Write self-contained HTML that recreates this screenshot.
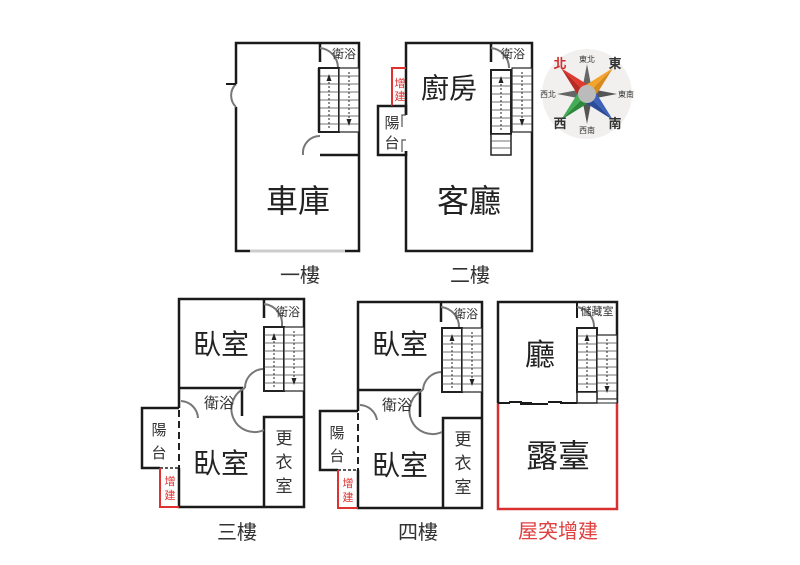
<!DOCTYPE html>
<html><head><meta charset="utf-8"><style>
html,body{margin:0;padding:0;background:#fff;}
svg{display:block;}
text{font-family:"Liberation Sans","Noto Sans CJK TC",sans-serif;}
</style></head><body>
<svg width="800" height="565" viewBox="0 0 800 565" xmlns="http://www.w3.org/2000/svg">
<defs>
<g id="stairL">
  <rect x="0" y="0" width="20" height="64" fill="#fff" stroke="#222" stroke-width="2"/>
  <g stroke="#444" stroke-width="0.8">
  <line x1="0" y1="8" x2="20" y2="8"/><line x1="0" y1="16" x2="20" y2="16"/><line x1="0" y1="24" x2="20" y2="24"/><line x1="0" y1="32" x2="20" y2="32"/><line x1="0" y1="40" x2="20" y2="40"/><line x1="0" y1="48" x2="20" y2="48"/><line x1="0" y1="56" x2="20" y2="56"/>
  </g>
  <line x1="10" y1="60" x2="10" y2="12" stroke="#222" stroke-width="1" stroke-dasharray="2,2"/>
  <polygon points="10,6 7.5,13 12.5,13" fill="#222"/>
</g>
<g id="stairR">
  <rect x="0" y="0" width="20" height="64" fill="#fff" stroke="#222" stroke-width="1.2"/>
  <g stroke="#444" stroke-width="0.8">
  <line x1="0" y1="8" x2="20" y2="8"/><line x1="0" y1="16" x2="20" y2="16"/><line x1="0" y1="24" x2="20" y2="24"/><line x1="0" y1="32" x2="20" y2="32"/><line x1="0" y1="40" x2="20" y2="40"/><line x1="0" y1="48" x2="20" y2="48"/><line x1="0" y1="56" x2="20" y2="56"/>
  </g>
  <line x1="10" y1="4" x2="10" y2="52" stroke="#222" stroke-width="1" stroke-dasharray="2,2"/>
  <polygon points="10,58 7.5,51 12.5,51" fill="#222"/>
</g>
</defs>
<g fill="none" stroke="#1a1a1a" stroke-width="2.5">
<rect x="236" y="43" width="123" height="208"/>
<line x1="320" y1="43" x2="320" y2="62"/>
<line x1="320" y1="155" x2="359" y2="155"/>
</g>
<rect x="233" y="84" width="6" height="23" fill="#fff"/>
<path d="M236 84 A16 16 0 0 0 236 107" fill="none" stroke="#777" stroke-width="2"/>
<line x1="226" y1="84" x2="236" y2="84" stroke="#1a1a1a" stroke-width="2"/>
<path d="M320 48 A20 20 0 0 1 338 68" fill="none" stroke="#777" stroke-width="2"/>
<path d="M303 155 A17 17 0 0 1 320 136" fill="none" stroke="#777" stroke-width="2"/>
<use href="#stairL" x="319" y="68"/>
<use href="#stairR" x="339" y="68"/>
<line x1="319" y1="68" x2="319" y2="132" stroke="#1a1a1a" stroke-width="2.5"/>
<line x1="250" y1="251" x2="345" y2="251" stroke="#ccc" stroke-width="3"/>
<text x="298" y="212" font-size="32" text-anchor="middle" fill="#222">車庫</text>
<text x="344" y="58" font-size="12" text-anchor="middle" fill="#333">衛浴</text>
<text x="300" y="282" font-size="20" text-anchor="middle" fill="#333">一樓</text>

<g fill="none" stroke="#1a1a1a" stroke-width="2.5">
<rect x="406" y="43" width="126" height="208"/>
<line x1="491" y1="43" x2="491" y2="62"/>
<rect x="378" y="106" width="28" height="49"/>
</g>
<rect x="404" y="115" width="5" height="36" fill="#fff"/>
<path d="M406 115 h-4 v12 M406 140 h-4 v12" fill="none" stroke="#555" stroke-width="1.2"/>
<path d="M392 106 V68 H406" fill="none" stroke="#e03030" stroke-width="2"/>
<line x1="392" y1="106" x2="406" y2="106" stroke="#222" stroke-width="1.5" stroke-dasharray="3,2"/>
<path d="M491 48 A20 20 0 0 1 509 68" fill="none" stroke="#777" stroke-width="2"/>
<use href="#stairL" x="491" y="70"/>
<use href="#stairR" x="512" y="68"/>
<rect x="491" y="134" width="20" height="21" fill="#fff" stroke="#222" stroke-width="1.5"/>
<line x1="491" y1="141" x2="511" y2="141" stroke="#444" stroke-width="0.8"/><line x1="491" y1="148" x2="511" y2="148" stroke="#444" stroke-width="0.8"/>
<text x="449" y="98" font-size="28" text-anchor="middle" fill="#222">廚房</text>
<text x="469" y="212" font-size="32" text-anchor="middle" fill="#222">客廳</text>
<text x="513" y="58" font-size="12" text-anchor="middle" fill="#333">衛浴</text>
<text x="400" y="87" font-size="11" text-anchor="middle" fill="#e03030">增</text>
<text x="400" y="100" font-size="11" text-anchor="middle" fill="#e03030">建</text>
<text x="392" y="128" font-size="15" text-anchor="middle" fill="#333">陽</text>
<text x="392" y="148" font-size="15" text-anchor="middle" fill="#333">台</text>
<text x="470" y="282" font-size="20" text-anchor="middle" fill="#333">二樓</text>

<!-- Compass -->
<circle cx="587" cy="94" r="45" fill="#f2f0ef"/>
<polygon points="587,64 582,90 592,90" fill="#666"/>
<polygon points="587,124 582,98 592,98" fill="#555"/>
<polygon points="557,94 583,89 583,99" fill="#666"/>
<polygon points="617,94 591,89 591,99" fill="#555"/>
<polygon points="561,68 593,88 587,94" fill="#e0392f"/>
<polygon points="561,68 581,100 587,94" fill="#b82a22"/>
<polygon points="613,68 593,100 587,94" fill="#d98a1c"/>
<polygon points="613,68 581,88 587,94" fill="#f3a42c"/>
<polygon points="561,120 593,100 587,94" fill="#2d8a3c"/>
<polygon points="561,120 581,88 587,94" fill="#45ad55"/>
<polygon points="613,120 593,88 587,94" fill="#3b62b8"/>
<polygon points="613,120 581,100 587,94" fill="#2a4c9a"/>
<circle cx="587" cy="94" r="9" fill="#bbb"/>
<text x="587" y="62" font-size="8" text-anchor="middle" fill="#333">東北</text>
<text x="587" y="133" font-size="8" text-anchor="middle" fill="#333">西南</text>
<text x="548" y="97" font-size="8" text-anchor="middle" fill="#333">西北</text>
<text x="626" y="97" font-size="8" text-anchor="middle" fill="#333">東南</text>
<text x="560" y="68" font-size="13" text-anchor="middle" fill="#d03030" font-weight="bold">北</text>
<text x="615" y="68" font-size="13" text-anchor="middle" fill="#333" font-weight="bold">東</text>
<text x="560" y="128" font-size="13" text-anchor="middle" fill="#333" font-weight="bold">西</text>
<text x="615" y="128" font-size="13" text-anchor="middle" fill="#333" font-weight="bold">南</text>

<!-- 3F -->
<g fill="none" stroke="#1a1a1a" stroke-width="2.5">
<path d="M179 408 V299 H304 V507 H179 V468"/>
<line x1="264" y1="299" x2="264" y2="318"/>
<path d="M179 388 H242 V416"/>
<path d="M264 507 V417 H304"/>
<line x1="264" y1="388" x2="304" y2="388"/>
<path d="M179 408 H142 V468 H160"/>
</g>
<line x1="179" y1="410" x2="179" y2="468" stroke="#222" stroke-width="2" stroke-dasharray="7,4"/>
<line x1="160" y1="468" x2="179" y2="468" stroke="#222" stroke-width="1.5" stroke-dasharray="3,2"/>
<path d="M160 468 V507 H179" fill="none" stroke="#e03030" stroke-width="2"/>
<path d="M264 304 A20 20 0 0 1 282 326" fill="none" stroke="#777" stroke-width="2"/>
<path d="M245 388 A19 19 0 0 1 264 369" fill="none" stroke="#777" stroke-width="2"/>
<path d="M245 388 A19 19 0 0 0 264 430" fill="none" stroke="#777" stroke-width="2"/>
<path d="M181 401 A18 18 0 0 1 198 418" fill="none" stroke="#777" stroke-width="2"/>
<use href="#stairL" x="264" y="327"/>
<use href="#stairR" x="284" y="327"/>
<text x="221" y="354" font-size="28" text-anchor="middle" fill="#222">臥室</text>
<text x="221" y="473" font-size="28" text-anchor="middle" fill="#222">臥室</text>
<text x="219" y="408" font-size="15" text-anchor="middle" fill="#333">衛浴</text>
<text x="288" y="316" font-size="12" text-anchor="middle" fill="#333">衛浴</text>
<text x="284" y="444" font-size="17" text-anchor="middle" fill="#333">更</text>
<text x="284" y="468" font-size="17" text-anchor="middle" fill="#333">衣</text>
<text x="284" y="492" font-size="17" text-anchor="middle" fill="#333">室</text>
<text x="159" y="435" font-size="15" text-anchor="middle" fill="#333">陽</text>
<text x="159" y="458" font-size="15" text-anchor="middle" fill="#333">台</text>
<text x="170" y="485" font-size="11" text-anchor="middle" fill="#e03030">增</text>
<text x="170" y="499" font-size="11" text-anchor="middle" fill="#e03030">建</text>
<text x="237" y="539" font-size="20" text-anchor="middle" fill="#333">三樓</text>

<!-- 4F -->
<g fill="none" stroke="#1a1a1a" stroke-width="2.5">
<path d="M358 411 V302 H482 V508 H358 V470"/>
<line x1="441" y1="302" x2="441" y2="322"/>
<path d="M358 390 H420 V417"/>
<path d="M443 508 V418 H482"/>
<line x1="443" y1="390" x2="482" y2="390"/>
<path d="M358 411 H320 V470 H338"/>
</g>
<line x1="358" y1="413" x2="358" y2="470" stroke="#222" stroke-width="2" stroke-dasharray="7,4"/>
<line x1="338" y1="470" x2="358" y2="470" stroke="#222" stroke-width="1.5" stroke-dasharray="3,2"/>
<path d="M338 470 V508 H358" fill="none" stroke="#e03030" stroke-width="2"/>
<path d="M441 307 A20 20 0 0 1 459 328" fill="none" stroke="#777" stroke-width="2"/>
<path d="M423 390 A19 19 0 0 1 442 372" fill="none" stroke="#777" stroke-width="2"/>
<path d="M423 390 A19 19 0 0 0 442 432" fill="none" stroke="#777" stroke-width="2"/>
<path d="M360 405 A18 18 0 0 1 377 420" fill="none" stroke="#777" stroke-width="2"/>
<use href="#stairL" x="442" y="328"/>
<use href="#stairR" x="462" y="328"/>
<text x="400" y="354" font-size="28" text-anchor="middle" fill="#222">臥室</text>
<text x="400" y="475" font-size="28" text-anchor="middle" fill="#222">臥室</text>
<text x="397" y="410" font-size="15" text-anchor="middle" fill="#333">衛浴</text>
<text x="466" y="318" font-size="12" text-anchor="middle" fill="#333">衛浴</text>
<text x="463" y="445" font-size="17" text-anchor="middle" fill="#333">更</text>
<text x="463" y="469" font-size="17" text-anchor="middle" fill="#333">衣</text>
<text x="463" y="493" font-size="17" text-anchor="middle" fill="#333">室</text>
<text x="337" y="438" font-size="15" text-anchor="middle" fill="#333">陽</text>
<text x="337" y="461" font-size="15" text-anchor="middle" fill="#333">台</text>
<text x="348" y="487" font-size="11" text-anchor="middle" fill="#e03030">增</text>
<text x="348" y="501" font-size="11" text-anchor="middle" fill="#e03030">建</text>
<text x="418" y="539" font-size="20" text-anchor="middle" fill="#333">四樓</text>

<!-- Rooftop -->
<path d="M498 403 V302 H617 V403" fill="none" stroke="#1a1a1a" stroke-width="2.5"/>
<path d="M498 403 V509 H617 V403" fill="none" stroke="#d83030" stroke-width="2.5"/>
<line x1="577" y1="302" x2="577" y2="318" stroke="#1a1a1a" stroke-width="2"/>
<path d="M577 307 A20 20 0 0 1 594 328" fill="none" stroke="#777" stroke-width="2"/>
<use href="#stairL" x="577" y="328"/>
<use href="#stairR" x="597" y="335"/>
<rect x="577" y="392" width="20" height="11" fill="#fff" stroke="#222" stroke-width="1.5"/>
<rect x="597" y="399" width="20" height="4" fill="#fff" stroke="#222" stroke-width="1"/>
<path d="M498 403 H510 M509 402 H522 M522 403 H532 M520 404 H542 M540 404 H548 M548 402 H562 M560 403 H577" stroke="#1a1a1a" stroke-width="2" fill="none"/>
<text x="540" y="365" font-size="30" text-anchor="middle" fill="#222">廳</text>
<text x="558" y="467" font-size="32" text-anchor="middle" fill="#222">露臺</text>
<text x="597" y="315" font-size="11" text-anchor="middle" fill="#333">儲藏室</text>
<text x="558" y="538" font-size="20" text-anchor="middle" fill="#e04040">屋突增建</text>
</svg>
</body></html>
